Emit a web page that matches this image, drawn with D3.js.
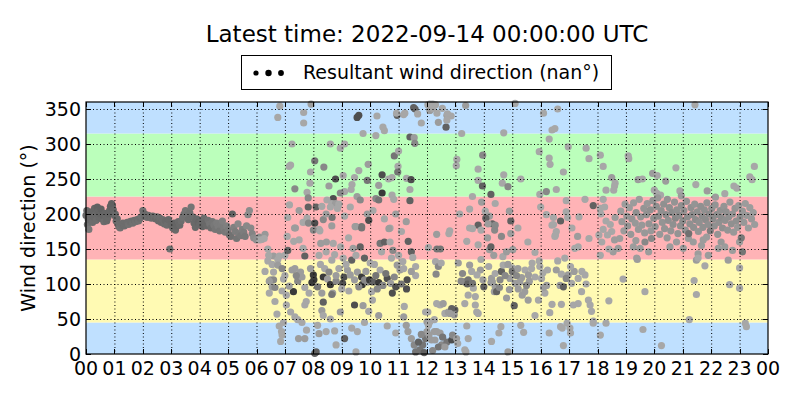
<!DOCTYPE html>
<html lang="en">
<head>
  <meta charset="UTF-8">
  <title>Resultant wind direction</title>
  <style>
    body { margin: 0; background: #fff; }
    svg { display: block; font-family: "DejaVu Sans", sans-serif; }
  </style>
</head>
<body>
  <script src="https://d3js.org/d3.v7.min.js"></script>
  <script>
    const width = 800, height = 400;
    const margin = { top: 102, right: 32, bottom: 46, left: 86 };

    const titleText = "Latest time: 2022-09-14 00:00:00 UTC";
    const legendText = "Resultant wind direction (nan\u00b0)";
    const hourLabels = ["00","01","02","03","04","05","06","07","08","09","10","11",
                        "12","13","14","15","16","17","18","19","20","21","22","23","00"];
    const directionTicks = [0, 50, 100, 150, 200, 250, 300, 350];
    // compass sectors shaded behind the points: N, E, S, W, N
    const sectorEdges = [0, 45, 135, 225, 315, 360];

    // [hour of day, direction in degrees, wind speed]
    const night = [
      [0.00,198,2.8],[0.03,205,2.8],[0.05,185,2.6],[0.08,192,2.8],[0.10,178,2.4],[0.13,200,2.8],
      [0.16,195,2.8],[0.20,203,2.9],[0.23,188,2.7],[0.26,196,2.8],[0.30,208,2.9],[0.33,199,2.8],
      [0.36,191,2.7],[0.40,210,3.0],[0.43,204,2.9],[0.46,195,2.8],[0.50,200,2.9],[0.53,207,3.0],
      [0.56,193,2.8],[0.60,198,2.9],[0.63,189,2.7],[0.66,201,2.9],[0.70,196,2.8],[0.73,190,2.8],
      [0.76,194,2.8],[0.80,200,2.9],[0.83,205,2.9],[0.86,211,3.0],[0.90,215,3.0],[0.93,212,3.0],
      [0.96,206,2.9],[1.00,198,2.9],[1.03,200,2.8],[1.06,190,2.8],[1.10,193,2.8],[1.13,185,2.7],
      [1.16,182,2.7],[1.20,180,2.6],[1.25,184,2.7],[1.30,187,2.7],[1.35,183,2.7],[1.40,186,2.7],
      [1.45,188,2.7],[1.50,185,2.6],[1.55,189,2.7],[1.60,190,2.7],[1.65,187,2.6],[1.70,191,2.7],
      [1.75,189,2.6],[1.80,192,2.7],[1.85,190,2.6],[1.90,194,2.7],[1.95,196,2.6],[2.00,205,2.6],
      [2.03,201,2.7],[2.07,197,2.7],[2.10,199,2.8],[2.15,195,2.7],[2.20,198,2.7],[2.25,196,2.8],
      [2.30,194,2.7],[2.35,197,2.8],[2.40,195,2.7],[2.45,193,2.8],[2.50,196,2.7],[2.55,190,2.8],
      [2.60,194,2.7],[2.65,188,2.8],[2.70,192,2.7],[2.75,186,2.7],[2.80,190,2.8],[2.85,184,2.7],
      [2.90,192,2.8],[2.95,150,2.6],[3.00,185,2.8],[3.05,180,2.8],[3.10,187,2.9],[3.15,177,2.8],
      [3.20,183,2.9],[3.25,189,2.8],[3.30,184,2.8],[3.35,190,2.7],[3.40,195,2.6],[3.45,200,2.6],
      [3.50,205,2.5],[3.55,198,2.6],[3.60,192,2.7],[3.65,202,2.6],[3.70,210,2.5],[3.75,196,2.7],
      [3.80,187,2.8],[3.85,181,2.8],[3.90,193,2.8],[3.95,188,2.9],[4.00,185,2.8],[4.05,190,2.8],
      [4.10,182,2.9],[4.15,194,2.7],[4.20,187,2.8],[4.25,183,2.8],[4.30,191,2.6],[4.35,186,2.5],
      [4.40,180,2.7],[4.45,189,2.5],[4.50,184,2.4],[4.55,178,2.5],[4.60,187,2.3],[4.65,182,2.3],
      [4.70,176,2.5],[4.75,185,2.3],[4.80,190,2.2],[4.85,179,2.3],[4.90,174,2.4],[4.95,183,2.2],
      [5.00,177,2.3],[5.05,170,2.6],[5.10,168,2.6],[5.15,200,3.0],[5.20,181,2.2],[5.25,175,2.3],
      [5.30,165,2.5],[5.35,186,2.0],[5.40,172,2.3],[5.45,169,2.4],[5.50,178,2.2],[5.55,174,2.3],
      [5.60,168,2.4],[5.65,183,2.0],[5.70,199,2.0],[5.75,205,1.9],[5.80,180,2.0],[5.85,172,2.1],
      [5.90,166,1.9],[6.00,163,1.8],[6.10,167,1.8],[6.20,164,1.7],[6.30,171,1.6]
    ];

    const morning = [
      [6.40,150,1.2],[6.60,140,1.5],[6.75,135,1.2],[6.60,117,1.2],[7.00,112,1.2],[6.95,45,1.2],[6.80,40,1.2],
      [6.82,354,1.2],[6.75,338,1.2],[7.66,345,1.2],[7.66,330,1.2],[7.92,357,1.5],[9.54,338,3.5],[9.60,341,3.5],
      [10.24,340,1.2],[10.95,341,3.0],[10.93,344,1.2],[11.22,344,1.2],[11.18,342,1.2],[11.53,352,3.0],[11.58,350,3.0],
      [11.67,343,1.2],[10.45,324,1.2],[10.50,319,1.2],[10.20,312,1.2],[11.40,310,3.0],[11.55,309,1.5],[11.57,301,2.0],
      [9.10,300,1.2],[8.95,294,1.2],[8.05,276,2.5],[7.20,270,1.2],[7.15,268,1.2],[8.37,267,2.0],[10.85,283,2.5],
      [9.93,271,1.5],[10.98,268,1.2],[10.97,260,2.5],[10.42,256,3.5],[10.77,252,1.2],[10.65,250,1.2],[11.28,251,1.2],
      [11.44,249,3.5],[8.78,250,3.5],[9.05,255,1.2],[9.45,252,1.2],[9.90,248,2.5],[7.88,244,1.2],[7.35,236,2.0],
      [7.78,231,1.2],[9.36,242,1.2],[9.33,235,1.2],[9.10,232,1.2],[8.95,230,2.0],[10.30,241,1.5],[10.42,230,4.0],
      [10.20,222,2.0],[10.30,220,2.5],[10.77,227,1.2],[10.83,221,1.2],[11.40,235,1.2],[11.40,219,3.0],[9.54,225,1.5],
      [8.70,222,3.5],[8.65,215,1.2],[8.78,215,1.5],[8.48,220,1.2],[7.82,223,2.0],[7.82,210,3.0],[8.10,210,3.0],
      [8.30,211,1.2],[8.60,210,1.2],[8.90,214,1.2],[8.85,208,1.2],[7.16,213,1.2],[7.78,194,1.2],[7.64,188,1.2],
      [7.83,187,2.0],[8.05,187,3.5],[8.35,192,2.0],[8.66,195,2.5],[9.10,197,1.2],[9.90,200,1.5],[9.95,191,3.5],
      [9.50,182,1.5],[9.70,182,2.5],[10.50,193,1.2],[10.70,180,1.2],[11.27,189,1.5],[7.34,180,1.5],[8.20,178,1.2],
      [7.37,180,1.5],[8.00,177,2.0],[8.23,176,1.2],[8.65,183,1.5],[9.47,182,1.5],[9.70,180,2.5],[10.66,179,1.5],
      [6.12,163,1.2],[6.27,165,1.2],[7.08,168,1.2],[7.31,161,1.2],[7.50,163,1.2],[8.26,158,1.5],[8.46,160,1.5],
      [8.70,158,1.2],[8.96,153,1.2],[9.24,166,1.2],[9.40,151,1.5],[9.65,153,3.0],[10.35,158,2.5],[10.50,160,3.0],
      [10.70,160,1.2],[11.34,161,3.0],[6.43,141,1.2],[6.40,133,1.2],[6.80,140,1.2],[7.00,141,1.2],[7.10,148,3.0],
      [7.64,151,1.2],[7.70,140,3.0],[8.20,141,1.2],[8.45,146,1.2],[8.75,142,1.2],[8.65,134,1.2],[9.05,137,1.2],
      [9.35,134,3.0],[9.50,141,1.2],[9.80,137,3.0],[10.15,128,1.2],[10.75,137,1.2],[11.00,141,1.2],[11.15,132,1.2],
      [11.45,146,3.0],[11.50,138,1.2],[10.40,146,1.2],[10.80,148,2.0],
      [6.55,128,1.2],[6.75,127,1.5],[6.90,122,2.0],[7.25,120,1.5],[7.35,122,1.5],[7.55,117,1.5],[6.50,106,1.5],
      [6.60,106,2.0],[6.45,104,1.5],[6.55,96,1.5],[6.65,95,2.0],[6.95,107,1.2],[6.90,90,1.2],[7.05,84,1.2],
      [7.05,70,1.2],[8.00,113,4.0],[8.02,106,4.0],[7.95,102,4.0],[8.40,122,1.2],[8.35,110,4.0],[8.50,107,1.5],
      [8.60,99,4.0],[7.30,89,4.0],[7.70,95,1.2],[7.85,87,1.2],[7.75,75,1.2],[7.70,70,1.2],[8.30,87,1.5],
      [8.35,74,3.0],[8.68,87,1.5],[8.65,85,2.5],[8.90,122,1.2],[9.08,110,3.5],[9.03,101,3.5],[9.00,93,1.2],
      [9.30,113,1.5],[9.45,106,1.5],[9.55,117,1.5],[9.70,110,4.0],[9.72,99,4.0],[9.80,106,2.0],[9.90,103,2.0],
      [9.98,106,4.0],[10.10,103,3.0],[10.30,102,4.0],[9.25,90,1.2],[9.45,70,3.5],[9.75,69,1.5],[9.95,61,1.2],
      [10.05,89,1.2],[10.08,77,1.2],[10.35,120,1.2],[10.60,108,3.5],[10.72,101,1.5],[10.78,87,3.5],[10.90,96,3.5],
      [11.05,120,1.5],[11.18,122,1.2],[10.95,127,1.5],[11.30,106,3.5],[11.28,93,3.5],[11.60,125,1.2],[11.60,112,1.2],
      [7.45,104,2.0],[7.60,110,1.5],[8.15,96,2.5],[8.80,104,2.0],[9.20,120,1.5],[10.20,112,2.5],[10.45,98,2.0],
      [6.30,118,1.2],[6.45,87,1.2],[6.65,75,1.2],[7.15,97,1.5],[7.40,112,2.0],[7.90,122,1.5],[8.25,128,1.2],
      [8.55,117,2.0],[8.80,112,1.5],[9.15,128,1.2],[9.60,96,2.0],[9.85,118,1.5],[10.00,130,1.2],[10.25,93,2.0],
      [10.55,115,2.5],[10.85,110,2.0],[11.10,100,2.5],[11.45,118,1.5],
      [11.20,68,1.2],[11.18,53,1.5],[11.27,41,1.5],[11.33,32,1.5],[11.45,22,1.5],[11.55,13,2.0],[11.75,6,2.5],
      [11.85,13,2.5],[11.95,22,2.5],[12.00,32,1.5],[11.95,60,1.2],[12.00,46,1.5],[6.72,57,1.2],[6.90,27,1.2],
      [6.85,18,1.2],[6.88,32,1.2],[7.48,22,1.5],[7.70,22,1.5],[7.76,34,1.2],[8.15,41,1.2],[8.20,29,1.5],
      [8.45,32,1.2],[8.75,33,1.2],[8.10,3,3.0],[8.05,1,3.0],[8.80,13,1.2],[9.10,22,3.0],[9.35,37,1.2],
      [9.55,32,1.2],[9.50,3,1.2],[8.60,50,1.2],[8.30,62,1.5],[8.35,55,1.2],[7.35,53,1.2],[7.45,49,1.2],
      [11.60,3,2.5],[11.70,17,3.0],[11.90,2,3.0],[11.80,28,2.0],[7.20,60,1.2],[7.60,45,1.2],[8.95,60,1.5],
      [9.80,45,1.2],[10.30,55,1.5],[10.60,40,1.2],[10.90,30,1.2],
      [7.10,195,1.2],[7.50,205,1.5],[8.45,200,1.5],[9.30,210,1.2],[9.65,220,2.0],[10.10,205,1.2],[10.90,200,1.5],
      [11.10,175,1.2],[7.90,260,1.2],[8.55,240,1.5],[9.60,262,1.2],[11.00,290,1.2],[8.60,300,1.2],[9.75,315,1.2],
      [11.80,330,1.2],[7.25,300,1.2]
    ];

    const afternoon = [
      [12.03,356,1.2],[12.10,357,1.2],[12.20,357,1.2],[12.30,356,1.2],[12.10,348,1.5],[12.20,351,1.2],[12.54,351,1.2],
      [12.35,344,1.2],[12.70,341,1.5],[12.85,340,1.2],[12.72,343,1.2],[12.40,331,1.5],[12.67,324,3.0],[12.70,334,1.2],
      [13.36,355,1.5],[15.10,358,1.2],[16.10,344,1.2],[16.60,350,1.2],[13.22,315,1.2],[14.70,316,1.2],[16.40,320,1.2],
      [16.50,322,1.2],[16.30,307,1.2],[15.95,289,1.2],[16.97,296,1.2],[17.60,294,1.2],[17.70,279,1.2],[16.30,280,1.2],
      [16.33,271,1.2],[13.05,278,1.2],[13.03,269,1.2],[13.96,284,2.0],[13.80,264,1.2],[14.70,256,1.2],[13.80,248,1.2],
      [13.95,240,3.0],[14.65,244,1.2],[14.85,239,2.0],[14.25,228,3.0],[15.97,228,1.2],[16.20,232,2.0],[16.55,235,1.2],
      [16.90,219,1.2],[17.56,221,1.2],[17.85,212,3.0],[13.92,217,1.5],[14.40,215,1.2],[13.50,207,1.2],[14.05,204,1.2],
      [14.20,197,1.5],[14.07,194,3.0],[14.90,204,1.5],[14.95,190,3.0],[13.80,184,3.0],[13.50,180,1.2],[14.30,186,3.0],
      [14.15,186,1.5],[16.20,199,1.2],[16.45,195,1.2],[16.70,190,3.0],[16.45,185,1.2],[16.90,203,1.2],[16.95,195,1.2],
      [17.35,196,1.2],[12.34,171,1.5],[12.77,172,1.2],[13.60,179,1.2],[13.90,177,1.2],[14.38,177,2.0],[14.40,184,2.0],
      [13.40,161,1.2],[13.80,156,1.2],[14.13,166,1.5],[14.62,168,2.0],[14.95,172,1.5],[14.20,149,1.5],[14.25,153,3.0],
      [14.35,141,1.5],[14.67,139,1.2],[14.80,146,1.5],[15.02,149,1.5],[12.35,150,2.5],[12.47,150,2.5],[12.30,132,1.2],
      [12.40,125,2.0],[12.50,130,1.2],[12.32,114,2.0],[15.80,145,1.2],[15.95,133,1.2],[16.40,184,1.2],[16.55,175,1.2],
      [16.52,170,1.2],[16.50,168,1.2],[17.30,168,1.5],[17.32,153,1.2],[17.20,151,1.2],[16.60,133,1.2],[16.85,137,1.2],
      [12.05,152,1.2],[12.80,176,1.2],[13.15,200,1.2],[13.60,225,1.2],[15.20,180,1.2],[15.55,160,1.2],[16.00,210,1.2],
      [17.10,180,1.2],[17.70,165,1.2],[15.30,250,1.2],[16.80,260,1.2],
      [13.50,127,1.5],[13.57,118,1.2],[13.45,106,2.5],[13.33,103,2.5],[13.42,100,3.0],[14.17,125,1.2],[13.88,120,1.5],
      [13.76,113,1.2],[13.97,106,1.5],[14.00,96,3.0],[14.27,108,1.5],[14.30,103,1.5],[14.40,115,1.2],[14.57,106,2.0],
      [14.62,118,3.0],[15.00,123,1.2],[15.00,118,2.5],[14.92,108,1.5],[15.10,101,1.5],[15.20,122,1.5],[15.45,120,1.2],
      [15.33,109,1.5],[15.27,103,1.5],[15.57,113,1.5],[15.68,122,1.2],[15.80,110,1.2],[15.97,125,1.2],[16.08,116,1.2],
      [16.24,120,1.2],[14.68,127,1.2],[14.85,128,1.5],[14.25,102,1.5],[14.37,89,1.5],[13.63,94,1.2],[13.70,82,1.2],
      [13.70,70,1.2],[13.45,84,1.2],[13.33,72,1.2],[13.75,60,1.2],[13.80,58,1.2],[14.40,96,1.5],[14.45,89,3.0],
      [14.80,80,1.5],[15.07,69,3.0],[15.21,93,1.5],[15.35,84,1.5],[15.44,89,1.5],[15.56,77,1.5],[15.92,77,1.2],
      [16.15,87,1.2],[16.21,98,1.5],[16.03,108,1.2],[16.40,71,1.2],[16.32,59,1.2],[16.73,71,1.2],[16.73,114,1.2],
      [16.68,98,1.5],[16.80,96,3.0],[16.97,113,1.5],[17.09,101,1.2],[17.18,118,1.5],[17.32,108,1.2],[17.44,89,1.2],
      [17.56,113,1.2],[17.68,77,1.2],[17.74,70,1.2],[17.79,61,1.2],[17.85,47,1.2],[17.32,72,1.2],[17.15,70,1.2],
      [13.20,104,2.0],[13.60,101,2.5],[14.75,112,2.0],[15.15,112,2.0],[15.60,104,1.5],[16.90,108,2.0],[17.45,118,1.2],
      [13.10,130,1.5],[13.25,115,2.0],[13.90,135,1.2],[14.55,95,2.0],[14.90,92,1.5],[15.50,98,2.0],[15.70,130,1.2],
      [16.10,95,1.5],[16.55,120,1.5],[17.05,125,1.2],[17.60,100,1.2],
      [12.34,72,1.2],[12.46,70,1.2],[12.57,72,1.5],[12.63,58,1.2],[12.75,60,1.5],[12.87,65,3.0],[12.98,63,3.0],
      [12.96,56,1.5],[12.80,58,1.5],[12.03,60,1.2],[12.05,41,1.2],[12.07,27,1.5],[12.16,20,1.5],[12.34,32,1.5],
      [12.46,30,1.5],[12.28,20,1.5],[12.52,13,2.0],[12.40,10,2.5],[12.70,17,2.5],[12.63,10,1.5],[12.87,20,3.5],
      [12.90,27,2.0],[13.04,22,1.5],[13.08,15,1.2],[13.33,6,1.2],[13.37,3,1.2],[13.45,22,1.2],[12.26,49,1.2],
      [12.10,46,1.2],[12.26,32,1.5],[14.60,39,1.2],[14.53,30,1.2],[14.27,18,1.2],[14.85,3,1.5],[15.40,31,1.2],
      [15.30,41,1.2],[16.70,39,1.2],[16.76,37,1.2],[16.93,44,1.2],[17.05,30,1.2],[17.03,37,1.2],[16.80,12,1.2],
      [17.85,44,1.2],[12.20,5,2.0],[12.55,24,2.5],[13.40,40,1.2],[15.80,55,1.2],[16.30,30,1.2]
    ];

    const evening = [
      [21.43,356,1.2],[18.10,284,1.2],[18.20,268,1.2],[19.08,283,1.2],[19.10,279,1.2],[20.76,266,1.2],[19.94,258,1.5],
      [20.10,255,1.2],[19.43,249,1.5],[19.58,250,1.2],[18.50,252,1.5],[18.62,244,1.2],[18.60,240,1.2],[18.30,234,1.2],
      [18.57,234,1.2],[20.40,247,1.5],[21.46,242,1.2],[22.80,240,1.2],[22.90,237,1.2],[23.44,249,1.2],[23.36,253,1.2],
      [23.52,268,1.2],[21.86,233,1.5],[22.48,229,1.2],[20.90,233,1.2],[20.00,234,1.2],[20.08,230,1.2],[20.22,227,1.2],
      [18.10,208,1.2],[18.20,221,1.2],[18.05,170,1.2],[18.10,141,1.2],[18.60,163,1.5],[18.78,165,1.5],[18.55,146,1.5],
      [18.73,151,1.5],[19.26,153,1.5],[19.50,151,1.5],[19.67,160,2.0],[19.80,146,1.5],[19.90,165,2.0],[20.55,153,1.5],
      [20.78,160,1.5],[21.02,151,1.5],[21.20,165,1.5],[21.37,160,1.5],[21.54,143,1.5],[21.66,155,1.5],[21.84,167,1.5],
      [22.25,151,1.5],[22.48,153,1.5],[22.60,134,1.5],[22.75,148,1.5],[23.10,146,2.5],[23.00,160,1.5],[19.38,137,1.5],
      [19.40,135,1.5],[21.48,134,1.5],[21.54,137,1.2],[21.78,126,1.2],[21.90,141,1.5],[23.00,123,1.2],[18.90,107,1.2],
      [19.67,89,1.2],[18.40,76,1.2],[21.40,105,1.2],[21.48,85,1.2],[22.65,99,1.2],[23.00,94,1.2],[21.23,49,1.2],
      [18.30,44,1.2],[23.20,44,1.2],[23.24,39,1.2],[19.60,35,1.2],[20.25,12,1.2],[18.10,27,1.2],
      [18.12,200,1.2],[18.25,210,1.2],[18.30,190,1.2],[18.45,185,1.2],[18.50,175,1.2],[18.62,195,1.5],[18.20,178,1.2],
      [18.15,160,1.2],[18.35,170,1.2],[18.40,150,1.2],
      [18.82,204,1.5],[18.86,189,1.6],[18.93,176,1.5],[18.97,214,1.5],[19.03,197,1.6],[19.06,183,1.7],[19.12,209,1.5],
      [19.17,171,1.6],[19.21,193,1.7],[19.27,216,1.5],[19.33,187,1.6],[19.36,202,1.8],[19.44,178,1.6],[19.47,221,1.5],
      [19.52,196,1.7],[19.56,184,1.6],[19.63,208,1.7],[19.66,173,1.6],[19.72,199,1.8],[19.75,215,1.6],[19.81,186,1.7],
      [19.86,206,1.8],[19.88,176,1.6],[19.95,219,1.7],[19.98,194,1.8],[20.03,182,1.7],[20.07,211,1.8],[20.12,223,1.6],
      [20.15,197,1.9],[20.19,171,1.6],[20.24,205,1.8],[20.28,188,1.7],[20.33,214,1.8],[20.36,179,1.7],[20.41,199,1.9],
      [20.46,221,1.7],[20.49,191,1.8],[20.53,209,1.8],[20.58,176,1.7],[20.62,202,1.9],[20.66,185,1.8],[20.71,217,1.7],
      [20.74,194,2.0],[20.79,206,1.8],[20.83,172,1.7],[20.87,198,1.9],[20.92,183,1.8],[20.95,212,1.8],[21.00,190,1.9],
      [21.04,205,1.8],[21.09,177,1.7],[21.13,218,1.7],[21.17,196,1.9],[21.21,172,2.6],[21.25,186,1.8],[21.29,209,1.8],
      [21.33,199,1.9],[21.38,181,1.8],[21.42,214,1.7],[21.45,192,1.9],[21.51,203,1.8],[21.55,175,1.7],[21.58,188,1.8],
      [21.63,211,1.8],[21.68,197,1.9],[21.71,181,1.8],[21.76,206,1.8],[21.80,192,1.9],[21.85,216,1.7],[21.89,185,1.8],
      [21.93,200,1.9],[21.97,176,2.2],[22.02,208,1.8],[22.06,193,1.9],[22.11,183,1.8],[22.14,213,1.7],[22.19,199,1.9],
      [22.23,171,1.7],[22.27,188,1.8],[22.32,205,1.8],[22.36,195,1.9],[22.40,180,1.8],[22.45,211,1.7],[22.49,191,1.8],
      [22.53,203,1.8],[22.58,177,1.7],[22.62,196,1.8],[22.66,217,1.6],[22.71,186,1.8],[22.75,200,1.7],[22.79,174,1.6],
      [22.84,208,1.7],[22.88,190,1.8],[22.93,181,1.6],[22.97,212,1.6],[23.02,196,1.8],[23.06,166,2.4],[23.10,204,1.6],
      [23.15,188,1.6],[23.20,215,1.5],[23.25,198,1.6],[23.31,180,1.5],[23.36,209,1.5],[23.42,193,1.6],[23.48,202,1.5],
      [23.53,185,1.5],[19.35,162,1.5],[20.45,166,1.6],[21.72,163,1.5],[22.35,160,1.6],[20.95,226,1.5],[22.15,224,1.5]
    ];

    const points = [...night, ...morning, ...afternoon, ...evening];

    const svg = d3.select("body").append("svg")
      .attr("width", width)
      .attr("height", height);

    const x = d3.scaleLinear().domain([0, 24]).range([margin.left, width - margin.right]);
    const y = d3.scaleLinear().domain([0, 360]).range([height - margin.bottom, margin.top]);
    const shade = d3.scaleLinear().domain([1, 4]).range(["#afafaf", "#3a3a3a"]).clamp(true);
    const sectorColors = ["#bfe0ff", "#fffab3", "#ffb3b6", "#bbffbb", "#bfe0ff"];

    // coloured sectors
    svg.append("g").selectAll("rect")
      .data(d3.pairs(sectorEdges))
      .join("rect")
      .attr("x", x(0))
      .attr("width", x(24) - x(0))
      .attr("y", d => y(d[1]))
      .attr("height", d => y(d[0]) - y(d[1]))
      .attr("fill", (d, i) => sectorColors[i]);

    // wind direction points
    svg.append("g").selectAll("circle")
      .data(points)
      .join("circle")
      .attr("cx", d => x(d[0]))
      .attr("cy", d => y(d[1]))
      .attr("r", 3.6)
      .attr("fill", d => shade(d[2]));

    // dotted grid drawn over everything, like matplotlib classic
    const hours = d3.range(hourLabels.length);
    const grid = svg.append("g")
      .attr("stroke", "#000")
      .attr("stroke-width", 1)
      .attr("stroke-dasharray", "1,2.5");
    grid.selectAll(".gx").data(hours.slice(1, -1)).join("line")
      .attr("x1", d => x(d) + 0.5).attr("x2", d => x(d) + 0.5)
      .attr("y1", y(360)).attr("y2", y(0));
    grid.selectAll(".gy").data(directionTicks.slice(1)).join("line")
      .attr("x1", x(0)).attr("x2", x(24))
      .attr("y1", d => y(d) + 0.5).attr("y2", d => y(d) + 0.5);

    // inward ticks on all four sides
    const tickLen = 5;
    const ticks = svg.append("g").attr("stroke", "#000").attr("stroke-width", 1);
    hours.forEach(h => {
      const px = Math.round(x(h)) + 0.5;
      ticks.append("line").attr("x1", px).attr("x2", px).attr("y1", y(0)).attr("y2", y(0) - tickLen);
      ticks.append("line").attr("x1", px).attr("x2", px).attr("y1", y(360)).attr("y2", y(360) + tickLen);
    });
    directionTicks.forEach(v => {
      const py = Math.round(y(v)) + 0.5;
      ticks.append("line").attr("x1", x(0)).attr("x2", x(0) + tickLen).attr("y1", py).attr("y2", py);
      ticks.append("line").attr("x1", x(24)).attr("x2", x(24) - tickLen).attr("y1", py).attr("y2", py);
    });

    svg.append("rect")
      .attr("x", x(0)).attr("y", y(360))
      .attr("width", x(24) - x(0)).attr("height", y(0) - y(360))
      .attr("fill", "none").attr("stroke", "#000").attr("stroke-width", 1.2);

    // tick labels
    svg.append("g").selectAll("text")
      .data(hourLabels)
      .join("text")
      .attr("x", (d, i) => x(i))
      .attr("y", y(0) + 21)
      .attr("text-anchor", "middle")
      .attr("font-size", 19)
      .text(d => d);

    svg.append("g").selectAll("text")
      .data(directionTicks)
      .join("text")
      .attr("x", x(0) - 5)
      .attr("y", d => y(d) + 7)
      .attr("text-anchor", "end")
      .attr("font-size", 19)
      .text(d => d);

    svg.append("text")
      .attr("transform", `translate(35,${(y(0) + y(360)) / 2}) rotate(-90)`)
      .attr("text-anchor", "middle")
      .attr("font-size", 19)
      .text("Wind direction (\u00b0)");

    svg.append("text")
      .attr("x", (x(0) + x(24)) / 2)
      .attr("y", 42)
      .attr("text-anchor", "middle")
      .attr("font-size", 23)
      .text(titleText);

    // legend
    const legend = svg.append("g");
    legend.append("rect")
      .attr("x", 241.5).attr("y", 55.5)
      .attr("width", 370).attr("height", 34)
      .attr("fill", "#fff").attr("stroke", "#000");
    legend.selectAll("circle")
      .data([2.6, 3.2, 2.9])
      .join("circle")
      .attr("cx", (d, i) => 256 + i * 12.5)
      .attr("cy", 73)
      .attr("r", d => d)
      .attr("fill", "#000");
    legend.append("text")
      .attr("x", 303)
      .attr("y", 79)
      .attr("font-size", 19)
      .text(legendText);
  </script>
</body>
</html>
